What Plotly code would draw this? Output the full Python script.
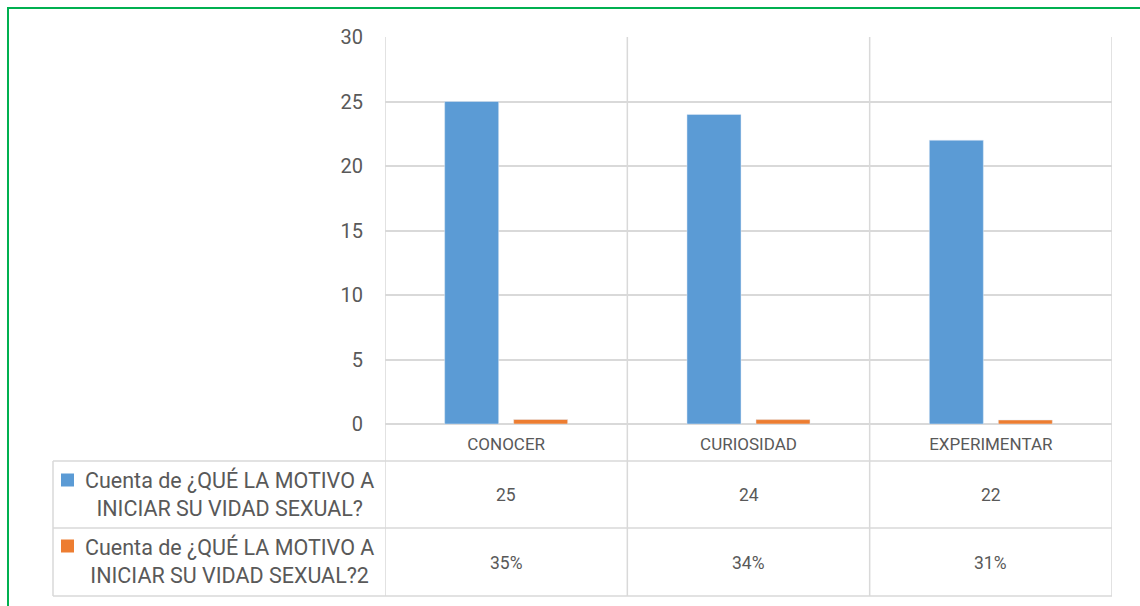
import plotly.graph_objects as go

categories = ["CONOCER", "CURIOSIDAD", "EXPERIMENTAR"]
counts = [25, 24, 22]
shares = [0.35, 0.34, 0.31]
series_names = [
    "Cuenta de ¿QUÉ LA MOTIVO A<br>INICIAR SU VIDAD SEXUAL?",
    "Cuenta de ¿QUÉ LA MOTIVO A<br>INICIAR SU VIDAD SEXUAL?2",
]
y_ticks = [0, 5, 10, 15, 20, 25, 30]

BLUE = "#5B9BD5"
ORANGE = "#ED7D31"
GRID = "#D9D9D9"
TXT = "#595959"
FONT = "Roboto, Lato, sans-serif"

W, H = 1140, 606
L, R, T, B = 385, 28, 37, 182
PW = W - L - R
PH = H - T - B


def px2x(px):
    return (px - L) / PW


def px2y(py):
    return (H - B - py) / PH


fig = go.Figure()
fig.add_trace(go.Bar(x=categories, y=counts, marker_color=BLUE, name="a", showlegend=False))
fig.add_trace(go.Bar(x=categories, y=shares, marker_color=ORANGE, name="b", showlegend=False))

shapes = []
line = dict(color=GRID, width=1.5)
# vertical lines through chart and table (category boundaries)
for xb in [-0.5, 0.5, 1.5, 2.5]:
    shapes.append(dict(type="line", xref="x", yref="paper", x0=xb, x1=xb,
                       y0=px2y(596), y1=1, line=line, layer="below"))
# left legend column border
shapes.append(dict(type="line", xref="paper", yref="paper", x0=px2x(53), x1=px2x(53),
                   y0=px2y(596), y1=px2y(461), line=line))
# horizontal table lines
for py in [461, 528, 596]:
    shapes.append(dict(type="line", xref="paper", yref="paper", x0=px2x(53), x1=1,
                       y0=px2y(py), y1=px2y(py), line=line))
# legend markers
for cy, col in [(480, BLUE), (546, ORANGE)]:
    shapes.append(dict(type="rect", xref="paper", yref="paper",
                       x0=px2x(61), x1=px2x(74), y0=px2y(cy - 6.5), y1=px2y(cy + 6.5),
                       fillcolor=col, line=dict(width=0)))
# outer green frame
shapes.append(dict(type="rect", xref="paper", yref="paper",
                   x0=px2x(8), x1=px2x(1150), y0=px2y(620), y1=px2y(8),
                   line=dict(color="#00B050", width=2), fillcolor="rgba(0,0,0,0)"))

annotations = []
legend_centers = [494, 561]
for name, cy in zip(series_names, legend_centers):
    annotations.append(dict(x=px2x(229), y=px2y(cy), xref="paper", yref="paper",
                            xanchor="center", yanchor="middle",
                            text=name, showarrow=False, align="center",
                            font=dict(family=FONT, size=21.5, color=TXT)))
row_centers = [495, 563]
for c, v, s in zip(categories, counts, shares):
    annotations.append(dict(x=c, y=px2y(row_centers[0]), xref="x", yref="paper",
                            xanchor="center", yanchor="middle",
                            text=str(v), showarrow=False,
                            font=dict(family=FONT, size=17.5, color=TXT)))
    annotations.append(dict(x=c, y=px2y(row_centers[1]), xref="x", yref="paper",
                            xanchor="center", yanchor="middle",
                            text=f"{round(s * 100)}%", showarrow=False,
                            font=dict(family=FONT, size=17.5, color=TXT)))

fig.update_layout(
    width=W, height=H,
    margin=dict(l=L, r=R, t=T, b=B, pad=0),
    paper_bgcolor="white", plot_bgcolor="white",
    barmode="group", bargap=0.4305, bargroupgap=0.217,
    shapes=shapes, annotations=annotations,
    font=dict(family=FONT, color=TXT, size=17),
)
fig.update_xaxes(type="category", range=[-0.5, 2.5], showgrid=False, zeroline=False,
                 showline=False, ticks="outside", ticklen=5, tickcolor="rgba(0,0,0,0)",
                 tickfont=dict(family=FONT, size=17, color=TXT))
fig.update_yaxes(range=[0, 30], tickvals=y_ticks, showgrid=True, gridcolor=GRID, gridwidth=1.5,
                 zeroline=True, zerolinecolor=GRID, zerolinewidth=1.5, showline=False,
                 ticks="outside", ticklen=17, tickcolor="rgba(0,0,0,0)",
                 tickfont=dict(family=FONT, size=20, color=TXT))

fig.write_html("out.html", config={"displayModeBar": False},
               post_script="document.body.style.margin='0px';")
